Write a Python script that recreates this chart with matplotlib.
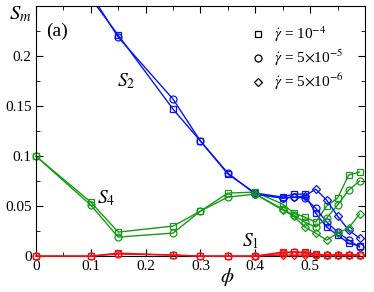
import numpy as np
import matplotlib
matplotlib.use('Agg')
import matplotlib.pyplot as plt
from matplotlib.ticker import MultipleLocator, FormatStrFormatter
from matplotlib.lines import Line2D

plt.rcParams['font.family'] = ['Liberation Serif', 'DejaVu Serif']
plt.rcParams['mathtext.fontset'] = 'stix'

# packing fraction values
phi = [0, 0.1, 0.15, 0.25, 0.3, 0.35, 0.4, 0.45, 0.47, 0.49, 0.51, 0.53, 0.55, 0.57, 0.59]
phi_slow = [0.4, 0.45, 0.47, 0.49, 0.51, 0.53, 0.55, 0.57, 0.59]

# gamma_dot = 1e-4 (squares)
s1_sq = [0.0, 0.0, 0.003, 0.001, 0.0, 0.0, 0.0, 0.004, 0.004, 0.004, 0.002, 0.001, 0.001, 0.001, 0.001]
s2_sq = [np.nan, 0.258, 0.221, 0.147, 0.115, 0.082, 0.063, 0.059, 0.062, 0.062, 0.043, 0.029, 0.021, 0.013, 0.010]
s4_sq = [0.100, 0.054, 0.024, 0.030, 0.045, 0.063, 0.064, 0.052, 0.043, 0.039, 0.034, 0.050, 0.058, 0.081, 0.084]

# gamma_dot = 5e-5 (circles)
s1_ci = [0.0, 0.0, 0.002, 0.001, 0.0, 0.0, 0.0, 0.003, 0.004, 0.003, 0.001, 0.001, 0.001, 0.001, 0.001]
s2_ci = [np.nan, 0.262, 0.219, 0.157, 0.115, 0.083, 0.062, 0.058, 0.059, 0.058, 0.048, 0.034, 0.024, 0.016, 0.009]
s4_ci = [0.100, 0.051, 0.019, 0.023, 0.045, 0.059, 0.062, 0.047, 0.041, 0.034, 0.029, 0.038, 0.051, 0.066, 0.075]

# gamma_dot = 5e-6 (diamonds)
s1_di = [0.0, 0.001, 0.001, 0.001, 0.001, 0.001, 0.001, 0.001, 0.001]
s2_di = [0.062, 0.058, 0.059, 0.060, 0.067, 0.056, 0.040, 0.026, 0.018]
s4_di = [0.062, 0.046, 0.040, 0.029, 0.023, 0.016, 0.023, 0.028, 0.042]

BLUE = '#0a14f0'
GREEN = '#179a17'
RED = '#f01010'

fig = plt.figure(figsize=(3.74, 2.92), dpi=100)
ax = fig.add_axes([0.096, 0.123, 0.88, 0.856])

sty = dict(lw=1.0, mfc='none', mew=0.9)
for x, s1, s2, s4, m, ms in [(phi, s1_sq, s2_sq, s4_sq, 's', 4.5),
                             (phi, s1_ci, s2_ci, s4_ci, 'o', 5.0),
                             (phi_slow, s1_di, s2_di, s4_di, 'D', 3.8)]:
    ax.plot(x, s2, marker=m, ms=ms, color=BLUE, **sty)
    ax.plot(x, s4, marker=m, ms=ms, color=GREEN, clip_on=False, **sty)
    ax.plot(x, s1, marker=m, ms=ms, color=RED, clip_on=False, zorder=3, **sty)

ax.set_xlim(0, 0.6)
ax.set_ylim(0, 0.25)
ax.xaxis.set_minor_locator(MultipleLocator(0.05))
ax.yaxis.set_minor_locator(MultipleLocator(0.025))
ax.xaxis.set_major_formatter(FormatStrFormatter('%g'))
ax.yaxis.set_major_formatter(FormatStrFormatter('%g'))
ax.tick_params(which='both', direction='in', top=True, right=True, labelsize=11, pad=3)
ax.tick_params(which='major', length=5)
ax.tick_params(which='minor', length=3)
ax.set_xticks([0, 0.1, 0.2, 0.3, 0.4, 0.5])
ax.set_yticks([0, 0.05, 0.1, 0.15, 0.2])

fig.text(0.607, 0.052, r'$\phi$', fontsize=15, ha='center', va='center')
fig.text(0.025, 0.95, r'$S_m$', fontsize=15, va='center')
ax.text(0.03, 0.90, '(a)', transform=ax.transAxes, fontsize=14, va='center')
ax.text(0.165, 0.175, r'$S_2$', fontsize=14, ha='center', va='center')
ax.text(0.128, 0.058, r'$S_4$', fontsize=14, ha='center', va='center')
ax.text(0.392, 0.015, r'$S_1$', fontsize=14, ha='center', va='center')

handles = [Line2D([], [], ls='none', marker='s', ms=4.5, mfc='none', mec='k', mew=0.9),
           Line2D([], [], ls='none', marker='o', ms=5, mfc='none', mec='k', mew=0.9),
           Line2D([], [], ls='none', marker='D', ms=3.8, mfc='none', mec='k', mew=0.9)]
labels = [r'$\dot{\gamma}$ = 10$^{-4}$', r'$\dot{\gamma}$ = 5$\times$10$^{-5}$',
          r'$\dot{\gamma}$ = 5$\times$10$^{-6}$']
ax.legend(handles, labels, loc='upper left', bbox_to_anchor=(0.62, 0.97), frameon=False,
          fontsize=11, handlelength=1.0, handletextpad=0.5, labelspacing=0.25, borderpad=0.2)

fig.savefig('out.png', dpi=100)
